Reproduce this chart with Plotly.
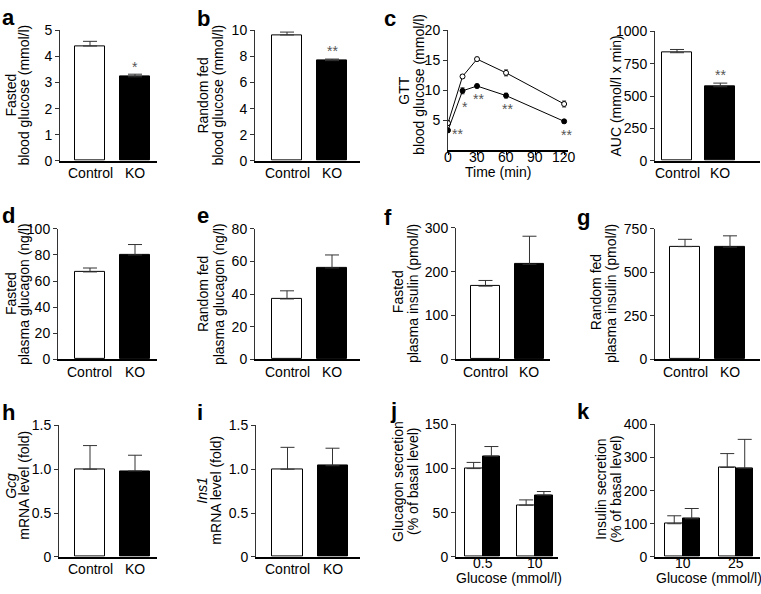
import plotly.graph_objects as go

W, H = 761, 594
FONT = "Liberation Sans, Arial, sans-serif"

# ---------------- data ----------------
groups = ["Control", "KO"]

fasted_glucose = [4.40, 3.22]
fasted_glucose_err = [0.18, 0.10]

fed_glucose = [9.65, 7.68]
fed_glucose_err = [0.22, 0.12]

gtt_time = [0, 15, 30, 60, 120]
gtt_control = [4.5, 12.3, 15.2, 12.9, 7.7]
gtt_control_err = [0.4, 0.3, 0.3, 0.5, 0.5]
gtt_ko = [3.3, 9.9, 10.7, 9.1, 4.8]
gtt_ko_err = [0.3, 0.5, 0.3, 0.4, 0.3]
gtt_time_ticks = [0, 30, 60, 90, 120]
gtt_glucose_ticks = [5, 10, 15, 20]

auc = [835, 572]
auc_err = [25, 28]

fasted_glucagon = [67, 80]
fasted_glucagon_err = [3, 8]

fed_glucagon = [37, 56]
fed_glucagon_err = [5, 8]

fasted_insulin = [167, 217]
fasted_insulin_err = [13, 64]

fed_insulin = [648, 645]
fed_insulin_err = [42, 65]

gcg_mrna = [1.00, 0.98]
gcg_mrna_err = [0.27, 0.18]

ins1_mrna = [1.00, 1.04]
ins1_mrna_err = [0.25, 0.20]

glucagon_glucose_levels = ["0.5", "10"]
glucagon_sec_control = [100, 58.5]
glucagon_sec_control_err = [7, 6]
glucagon_sec_ko = [114, 70]
glucagon_sec_ko_err = [11, 4]

insulin_glucose_levels = ["10", "25"]
insulin_sec_control = [100, 270]
insulin_sec_control_err = [24, 42]
insulin_sec_ko = [115, 268]
insulin_sec_ko_err = [31, 87]

# ---------------- layout helpers ----------------
def xd(a, b):
    return [a / W, b / W]

def yd(top, bot):
    return [1 - bot / H, 1 - top / H]

fig = go.Figure()
layout = dict(
    width=W, height=H, margin=dict(l=0, r=0, t=0, b=0),
    paper_bgcolor="white", plot_bgcolor="white",
    font=dict(family=FONT, size=14, color="black"),
    showlegend=False,
)
annotations = []

def ptxt(text, x, y, size=14, angle=0, bold=False, xanchor="center", yanchor="middle",
         color="black", xref="paper", pad=1):
    annotations.append(dict(
        text=f"<b>{text}</b>" if bold else text,
        x=(x / W) if xref == "paper" else x, y=1 - y / H,
        xref=xref, yref="paper", showarrow=False, textangle=angle, borderpad=pad,
        xanchor=xanchor, yanchor=yanchor, font=dict(size=size, color=color, family=FONT)))

def yaxis_style(rng, domain, tickvals, ticktext=None, anchor="x"):
    d = dict(domain=domain, range=rng, tickvals=tickvals, showline=True,
             linecolor="#333", linewidth=1, ticks="outside", ticklen=4,
             tickcolor="#333", showgrid=False, zeroline=False,
             tickfont=dict(size=14), anchor=anchor, fixedrange=True)
    if ticktext is not None:
        d["ticktext"] = ticktext
    return d

def xaxis_style(rng, domain, tickvals, anchor, ticks=""):
    return dict(domain=domain, range=rng, tickvals=tickvals, showticklabels=False,
                showline=True, linecolor="black", linewidth=1.5, ticks=ticks,
                ticklen=3, tickcolor="black", showgrid=False, zeroline=False,
                anchor=anchor, fixedrange=True)

def xlabels(n, vals, texts, ypix, pad=1):
    for v, t in zip(vals, texts):
        ptxt(t, v, ypix, xref=f"x{n}", pad=pad)

ERR = dict(color="#333", thickness=1, width=7)

def single_bar_panel(n, vals, errs, xbox, ybox, xr, yr, ytv, yttext=None, bw=0.667):
    xa, ya = f"x{n}", f"y{n}"
    fig.add_trace(go.Bar(
        x=[0, 1], y=vals, width=bw, xaxis=xa, yaxis=ya,
        marker=dict(color=["white", "black"], line=dict(color="black", width=1)),
        error_y=dict(type="data", symmetric=False, array=errs, arrayminus=[0, 0], **ERR),
        hoverinfo="skip"))
    layout[f"xaxis{n}"] = xaxis_style(xr, xd(*xbox), [0, 1], ya)
    layout[f"yaxis{n}"] = yaxis_style(yr, yd(*ybox), ytv, yttext, anchor=xa)
    xlabels(n, [0, 1], groups, ybox[1] + 13)

def grouped_bar_panel(n, cats, c_vals, c_err, k_vals, k_err, xbox, ybox, xr, yr, ytv, bw=0.338):
    xa, ya = f"x{n}", f"y{n}"
    fig.add_trace(go.Bar(
        x=[0, 1], y=c_vals, width=bw, offset=-bw, xaxis=xa, yaxis=ya,
        marker=dict(color="white", line=dict(color="black", width=1)),
        error_y=dict(type="data", symmetric=False, array=c_err, arrayminus=[0, 0], **ERR),
        hoverinfo="skip"))
    fig.add_trace(go.Bar(
        x=[0, 1], y=k_vals, width=bw, offset=0, xaxis=xa, yaxis=ya,
        marker=dict(color="black", line=dict(color="black", width=1)),
        error_y=dict(type="data", symmetric=False, array=k_err, arrayminus=[0, 0], **ERR),
        hoverinfo="skip"))
    layout[f"xaxis{n}"] = xaxis_style(xr, xd(*xbox), [0, 1], ya)
    layout[f"yaxis{n}"] = yaxis_style(yr, yd(*ybox), ytv, anchor=xa)
    xlabels(n, [0, 1], cats, ybox[1] + 6, pad=0)

# a
single_bar_panel(1, fasted_glucose, fasted_glucose_err, (60, 157), (23, 157),
                 [-0.667, 1.489], [0, 5], [0, 1, 2, 3, 4, 5])
# b
single_bar_panel(2, fed_glucose, fed_glucose_err, (255, 360), (23, 157),
                 [-0.711, 1.622], [0, 10], [0, 2, 4, 6, 8, 10])
# c (GTT)
fig.add_trace(go.Scatter(
    x=gtt_time, y=gtt_control, mode="lines+markers", xaxis="x3", yaxis="y3",
    line=dict(color="black", width=1),
    marker=dict(symbol="circle", size=5, color="white", line=dict(color="black", width=1)),
    error_y=dict(type="data", array=gtt_control_err, color="#333", thickness=1, width=2),
    hoverinfo="skip"))
fig.add_trace(go.Scatter(
    x=gtt_time, y=gtt_ko, mode="lines+markers", xaxis="x3", yaxis="y3",
    line=dict(color="black", width=1),
    marker=dict(symbol="circle", size=5, color="black", line=dict(color="black", width=1)),
    error_y=dict(type="data", array=gtt_ko_err, color="#333", thickness=1, width=2),
    hoverinfo="skip"))
layout["xaxis3"] = xaxis_style([0, 124], xd(448, 568), gtt_time_ticks, "y3", ticks="outside")
layout["yaxis3"] = yaxis_style([0, 20], yd(23, 146), gtt_glucose_ticks, anchor="x3")
xlabels(3, gtt_time_ticks, [str(t) for t in gtt_time_ticks], 153, pad=0)
# AUC
single_bar_panel(4, auc, auc_err, (655, 760), (24, 157),
                 [-0.508, 1.917], [0, 1000], [0, 250, 500, 750, 1000], bw=0.69)
# d
single_bar_panel(5, fasted_glucagon, fasted_glucagon_err, (58, 157), (227, 361),
                 [-0.711, 1.489], [0, 100], [0, 20, 40, 60, 80, 100])
# e
single_bar_panel(6, fed_glucagon, fed_glucagon_err, (255, 360), (227, 361),
                 [-0.711, 1.622], [0, 80], [0, 20, 40, 60, 80])
# f
single_bar_panel(7, fasted_insulin, fasted_insulin_err, (456, 550), (226, 361),
                 [-0.67, 1.466], [0, 300], [0, 100, 200, 300], bw=0.68)
# g
single_bar_panel(8, fed_insulin, fed_insulin_err, (655, 760), (227, 361),
                 [-0.667, 1.667], [0, 750], [0, 250, 500, 750])
# h
single_bar_panel(9, gcg_mrna, gcg_mrna_err, (59, 157), (429, 564),
                 [-0.689, 1.489], [0, 1.5], [0, 0.5, 1.0, 1.5], ["0", "0.5", "1.0", "1.5"])
# i
single_bar_panel(10, ins1_mrna, ins1_mrna_err, (256, 360), (429, 564),
                 [-0.7, 1.611], [0, 1.5], [0, 0.5, 1.0, 1.5], ["0", "0.5", "1.0", "1.5"])
# j
grouped_bar_panel(11, glucagon_glucose_levels, glucagon_sec_control, glucagon_sec_control_err,
                  glucagon_sec_ko, glucagon_sec_ko_err, (456, 558), (428, 564),
                  [-0.505, 1.438], [0, 150], [0, 50, 100, 150])
# k
grouped_bar_panel(12, insulin_glucose_levels, insulin_sec_control, insulin_sec_control_err,
                  insulin_sec_ko, insulin_sec_ko_err, (655, 760), (428, 564),
                  [-0.528, 1.453], [0, 400], [0, 100, 200, 300, 400], bw=0.33)

# ---------------- text ----------------
# panel letters (left x, vertical centre)
for letter, x, y in [("a", 0, 10), ("b", 195, 11), ("c", 382, 11),
                     ("d", 0, 213), ("e", 195, 213), ("f", 382, 215), ("g", 575, 215),
                     ("h", 0, 416), ("i", 195, 416), ("j", 388, 414), ("k", 575, 415)]:
    ptxt(letter, x, y, size=22, bold=True, xanchor="left")

# y titles
ytitles = [
    ("Fasted", 11, 90), ("blood glucose (mmol/l)", 24, 90),
    ("Random fed", 203, 90), ("blood glucose (mmol/l)", 218, 90),
    ("GTT", 404, 85), ("blood glucose (mmol/l)", 419, 78),
    ("AUC (mmol/l x min)", 616, 91),
    ("Fasted", 11, 294), ("plasma glucagon (ng/l)", 24, 294),
    ("Random fed", 203, 294), ("plasma glucagon (ng/l)", 219, 294),
    ("Fasted", 398, 292), ("plasma insulin (pmol/l)", 413, 294),
    ("Random fed", 596, 292), ("plasma insulin (pmol/l)", 611, 294),
    ("<i>Gcg</i>", 11, 491), ("mRNA level (fold)", 24, 491),
    ("<i>Ins1</i>", 202, 496), ("mRNA level (fold)", 216, 496),
    ("Glucagon secretion", 398, 487), ("(% of basal level)", 413, 487),
    ("Insulin secretion", 601, 495), ("(% of basal level)", 616, 495),
]
for t, x, y in ytitles:
    ptxt(t, x, y, angle=-90)

# x titles
ptxt("Time (min)", 498, 169, pad=0)
ptxt("Glucose (mmol/l)", 509, 586, pad=0)
ptxt("Glucose (mmol/l)", 709, 586, pad=0)

# significance stars (data coordinates)
def star(text, xa, ya, x, y, yanchor="bottom", yshift=0):
    annotations.append(dict(text=text, x=x, y=y, xref=xa, yref=ya, showarrow=False,
                            xanchor="center", yanchor=yanchor, yshift=yshift,
                            font=dict(size=14, color="#555", family=FONT)))

star("*", "x1", "y1", 1, fasted_glucose[1] + fasted_glucose_err[1], yshift=-3)
star("**", "x2", "y2", 1, fed_glucose[1] + fed_glucose_err[1], yshift=-2)
star("**", "x4", "y4", 1, auc[1] + auc_err[1], yshift=-2)
for x, y in [(9.3, 3.4), (17.6, 7.8), (31, 9.2), (61, 7.45), (122, 3.2)]:
    star("**" if x != 17.6 else "*", "x3", "y3", x, y, yanchor="middle", yshift=-4)

layout["annotations"] = annotations
layout["bargap"] = 0
fig.update_layout(**layout)
fig.write_html(
    "out.html",
    config={"displayModeBar": False, "responsive": False},
    post_script=("document.documentElement.style.margin='0';"
                 "document.documentElement.style.overflow='hidden';"
                 "document.body.style.margin='0';document.body.style.padding='0';"
                 "document.body.style.overflow='hidden';"))
